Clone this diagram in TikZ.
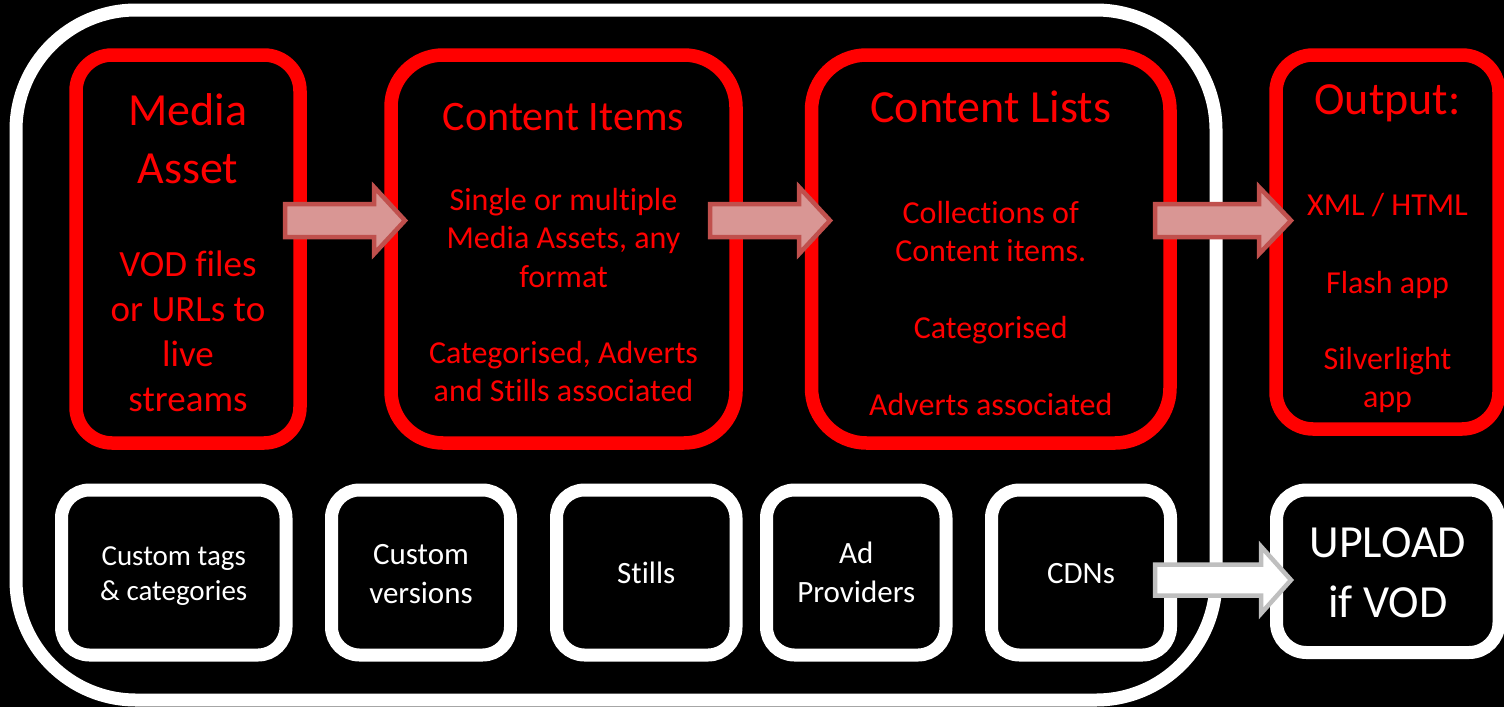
\documentclass[tikz,border=0pt]{standalone}
\usepackage{fontspec}
\setmainfont{Carlito}[Ligatures={NoCommon}]
\definecolor{pinkfill}{RGB}{217,150,148}
\definecolor{pinkline}{RGB}{192,80,77}
\definecolor{greyline}{RGB}{191,191,191}
\tikzset{
  box/.style={draw, shape=rectangle, inner sep=0pt, outer sep=0pt, fill=none},
  redbox/.style={box, draw=red, line width=13.5pt},
  whitebox/.style={box, draw=white, line width=13pt, rounded corners=28pt},
  redtxt/.style={text=red, anchor=base, inner sep=0pt},
  whitetxt/.style={text=white, anchor=base, inner sep=0pt},
  ftitle/.style={font=\fontsize{46}{50}\selectfont},
  fitem/.style={font=\fontsize{42}{46}\selectfont},
  fmedia/.style={font=\fontsize{37}{40}\selectfont},
  fbody/.style={font=\fontsize{32}{36}\selectfont},
  fsmall/.style={font=\fontsize{29}{32}\selectfont},
  fwhite/.style={font=\fontsize{31}{34}\selectfont},
  pinkarrow/.style={fill=pinkfill, draw=pinkline, line width=4.5pt, line join=miter},
  whitearrow/.style={fill=white, draw=greyline, line width=4.5pt, line join=miter},
}
\begin{document}
\begin{tikzpicture}[x=1pt, y=-1pt]
\fill[black] (0,0) rectangle (1504,707);
\useasboundingbox (0,0) rectangle (1504,707);

% outer frame
\node[box, draw=white, line width=13pt, rounded corners=120pt, minimum width=1200pt, minimum height=690pt] (frame) at (616,355) {};

% red boxes
\node[redbox, rounded corners=36pt, minimum width=224pt, minimum height=388pt] (media) at (188,249) {};
\node[redbox, rounded corners=52pt, minimum width=345pt, minimum height=388pt] (items) at (563.5,249) {};
\node[redbox, rounded corners=55pt, minimum width=358.5pt, minimum height=388pt] (lists) at (990.75,249) {};
\node[redbox, rounded corners=37pt, minimum width=223pt, minimum height=374pt] (output) at (1387.5,242) {};

% white boxes
\node[whitebox, minimum width=224.5pt, minimum height=165pt] (tags) at (173.75,572.5) {};
\node[whitebox, minimum width=179pt, minimum height=165pt] (versions) at (421,572.5) {};
\node[whitebox, minimum width=179.5pt, minimum height=165pt] (stills) at (646.25,572.5) {};
\node[whitebox, minimum width=179.5pt, minimum height=165pt] (ads) at (856.25,572.5) {};
\node[whitebox, minimum width=179pt, minimum height=165pt] (cdns) at (1081,572.5) {};
\node[whitebox, rounded corners=30pt, minimum width=222.5pt, minimum height=162.5pt] (upload) at (1387.75,571.25) {};

% texts: Media Asset
\node[redtxt, ftitle] (m1) at (188,125) {Media};
\node[redtxt, ftitle] (m2) at (188,183) {Asset};
\node[redtxt, fmedia] (m3) at (188,276) {VOD files};
\node[redtxt, fmedia] (m4) at (188,321) {or URLs to};
\node[redtxt, fmedia] (m5) at (188,366) {live};
\node[redtxt, fmedia] (m6) at (188,411) {streams};

% Content Items
\node[redtxt, fitem] (i1) at (563.5,130) {Content Items};
\node[redtxt, fbody] (i2) at (563.5,210) {Single or multiple};
\node[redtxt, fbody] (i3) at (563.5,248.5) {Media Assets, any};
\node[redtxt, fbody] (i4) at (563.5,287) {format};
\node[redtxt, fbody] (i5) at (563.5,363) {Categorised, Adverts};
\node[redtxt, fbody] (i6) at (563.5,401) {and Stills associated};

% Content Lists
\node[redtxt, ftitle] (l1) at (990.75,122) {Content Lists};
\node[redtxt, fbody] (l2) at (990.75,223) {Collections of};
\node[redtxt, fbody] (l3) at (990.75,261) {Content items.};
\node[redtxt, fbody] (l4) at (990.75,338) {Categorised};
\node[redtxt, fbody] (l5) at (990.75,415) {Adverts associated};

% Output
\node[redtxt, ftitle] (o1) at (1387.5,114) {Output:};
\node[redtxt, fbody] (o2) at (1387.5,215) {XML / HTML};
\node[redtxt, fbody] (o3) at (1387.5,293) {Flash app};
\node[redtxt, fbody] (o4) at (1387.5,369) {Silverlight};
\node[redtxt, fbody] (o5) at (1387.5,407) {app};

% bottom texts
\node[whitetxt, fsmall] (t1) at (173.75,565) {Custom tags};
\node[whitetxt, fsmall] (t2) at (173.75,600) {\& categories};
\node[whitetxt, fwhite] (v1) at (421,564) {Custom};
\node[whitetxt, fwhite] (v2) at (421,603) {versions};
\node[whitetxt, fwhite] (s1) at (646.25,583) {Stills};
\node[whitetxt, fwhite] (a1) at (856.25,563) {Ad};
\node[whitetxt, fwhite] (a2) at (856.25,602) {Providers};
\node[whitetxt, fwhite] (c1) at (1081,583) {CDNs};
\node[whitetxt, ftitle] (u1) at (1387.75,557) {UPLOAD};
\node[whitetxt, ftitle] (u2) at (1387.75,617) {if VOD};

% block arrows
\coordinate (ar1) at (285,220.5);
\coordinate (ar2) at (710,220.5);
\coordinate (ar3) at (1155,220.5);
\coordinate (ar4) at (1155,580);
\draw[pinkarrow] (ar1) ++(0,-16.5) -- ++(89,0) -- ++(0,-17) -- ++(31,33.5) -- ++(-31,33.5) -- ++(0,-17) -- ++(-89,0) -- cycle;
\draw[pinkarrow] (ar2) ++(0,-16.5) -- ++(89,0) -- ++(0,-17) -- ++(31,33.5) -- ++(-31,33.5) -- ++(0,-17) -- ++(-89,0) -- cycle;
\draw[pinkarrow] (ar3) ++(0,-16.5) -- ++(104,0) -- ++(0,-17) -- ++(32,33.5) -- ++(-32,33.5) -- ++(0,-17) -- ++(-104,0) -- cycle;
\draw[whitearrow] (ar4) ++(0,-15.5) -- ++(106,0) -- ++(0,-18) -- ++(30,33.5) -- ++(-30,33.5) -- ++(0,-18) -- ++(-106,0) -- cycle;
\end{tikzpicture}
\end{document}
